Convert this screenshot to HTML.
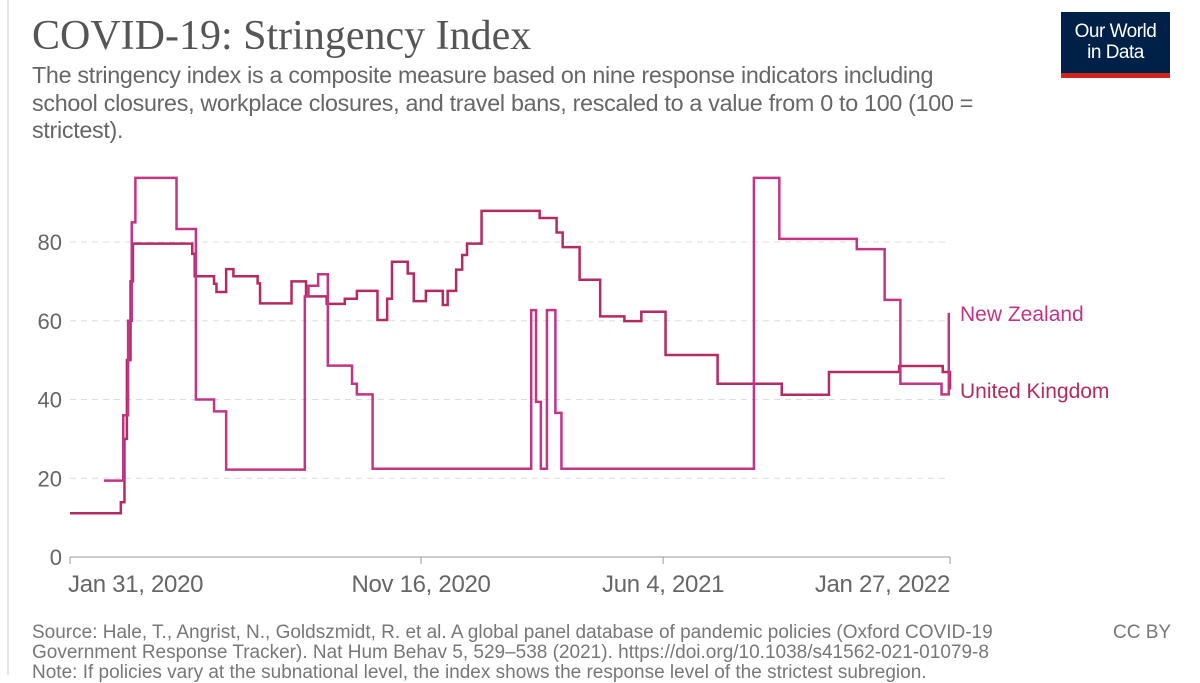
<!DOCTYPE html>
<html><head><meta charset="utf-8"><style>
body{margin:0;width:1200px;height:675px;overflow:hidden;background:#fff;font-family:"Liberation Sans",sans-serif}
.t{position:absolute;white-space:nowrap}
</style></head><body>
<div style="position:absolute;left:7px;top:0;width:2px;height:675px;background:#e4e4e4"></div>
<div class="t" style="left:32px;top:12px;font-family:'Liberation Serif',serif;font-size:42px;color:#555">COVID-19: Stringency Index</div>
<div class="t" style="left:32px;top:62px;font-size:23.3px;line-height:27.5px;color:#666;letter-spacing:-0.3px">The stringency index is a composite measure based on nine response indicators including<br>school closures, workplace closures, and travel bans, rescaled to a value from 0 to 100 (100 =<br>strictest).</div>
<div style="position:absolute;left:1061px;top:12px;width:109px;height:66px;background:#002147">
<div style="position:absolute;left:0;right:0;bottom:0;height:5px;background:#ce261e"></div>
<div style="color:#fff;font-size:19px;line-height:21px;text-align:center;margin-top:9px;letter-spacing:-0.5px">Our World<br>in Data</div></div>
<svg id="chart" width="1200" height="675" style="position:absolute;left:0;top:0"></svg>
<div class="t" style="left:32px;top:623px;font-size:19px;line-height:20px;color:#777">Source: Hale, T., Angrist, N., Goldszmidt, R. et al. A global panel database of pandemic policies (Oxford COVID-19<br>Government Response Tracker). Nat Hum Behav 5, 529–538 (2021). https://doi.org/10.1038/s41562-021-01079-8<br>Note: If policies vary at the subnational level, the index shows the response level of the strictest subregion.</div>
<div class="t" style="left:1113px;top:623px;font-size:19px;line-height:20px;color:#777">CC BY</div>
<script>
const yTicks=[0,20,40,60,80];
const xTickDays=[0,290,490,727];
const xTickLabels=["Jan 31, 2020","Nov 16, 2020","Jun 4, 2021","Jan 27, 2022"];
const ukDays=[0,42,45,47,50,52,101,103,119,121,129,135,155,157,183,195,212,227,237,254,262,266,279,284,294,308,312,319,324,328,340,388,402,407,421,438,458,472,492,535,588,627,685,721,727];
const ukValues=[11.1,13.9,30,50,70,79.6,77,71.3,69.4,67.3,73.1,71.3,69.5,64.4,70,66.2,64.3,65.6,67.6,60.2,65.6,75,72,65,67.6,64,67.6,73,76.7,79.6,87.9,86.1,82.4,78.7,70.4,61.1,59.9,62.3,51.3,44,41.2,47,48.5,47,42.5];
const nzDays=[28,44,48,51,54,88,104,119,129,194,197,205,213,233,237,250,381,385,389,394,401,406,565,586,650,673,686,720,726];
const nzValues=[19.4,36,60,85,96.3,83.3,40,37,22.2,66.2,68.9,71.8,48.6,44,41.3,22.4,62.7,39.4,22.4,62.7,36.6,22.4,96.3,80.8,78.2,65.3,44,41.3,62];
const X0=70,X1=950,Y0=557,Y80=242;
const xs=d=>X0+(X1-X0)*d/727;
const ys=v=>Y0-(Y0-Y80)*v/80;
const svg=document.getElementById('chart');const NS='http://www.w3.org/2000/svg';
function mk(t,a){const e=document.createElementNS(NS,t);for(const k in a)e.setAttribute(k,a[k]);svg.appendChild(e);return e;}
yTicks.forEach(v=>{
 if(v>0){const g=mk('line',{x1:X0,x2:X1,y1:ys(v),y2:ys(v),stroke:'#ddd','stroke-dasharray':'6,5'});
 
 }
 const t=mk('text',{x:62,y:ys(v)+8,'text-anchor':'end','font-size':22,fill:'#666','font-family':'Liberation Sans, sans-serif'});t.textContent=v;
 
 
});
const ax=mk('line',{x1:X0,x2:X1,y1:Y0,y2:Y0,stroke:'#999'});


xTickDays.forEach((d,i)=>{
 const tk=mk('line',{x1:xs(d),x2:xs(d),y1:Y0,y2:Y0+7,stroke:'#999'});
 
 
 const anc=i==0?'start':(i==xTickDays.length-1?'end':'middle');
 const t=mk('text',{x:xs(d)+(i==0?-2:0),y:592,'text-anchor':anc,'font-size':24,fill:'#666','font-family':'Liberation Sans, sans-serif','letter-spacing':'-0.3'});t.textContent=xTickLabels[i];
 
 
});
function step(days,vals){let p='M'+xs(days[0])+','+ys(vals[0]);for(let i=1;i<days.length;i++){p+='H'+xs(days[i])+'V'+ys(vals[i]);}return p;}
const uk=mk('path',{d:step(ukDays,ukValues),fill:'none',stroke:'#b42a62','stroke-width':2.5});


const nz=mk('path',{d:step(nzDays,nzValues),fill:'none',stroke:'#c13584','stroke-width':2.5});


const l1=mk('text',{x:960,y:321,'font-size':21,fill:'#c13584','font-family':'Liberation Sans, sans-serif'});l1.textContent='New Zealand';


const l2=mk('text',{x:960,y:398,'font-size':21,fill:'#b42a62','font-family':'Liberation Sans, sans-serif'});l2.textContent='United Kingdom';


</script>
</body></html>
